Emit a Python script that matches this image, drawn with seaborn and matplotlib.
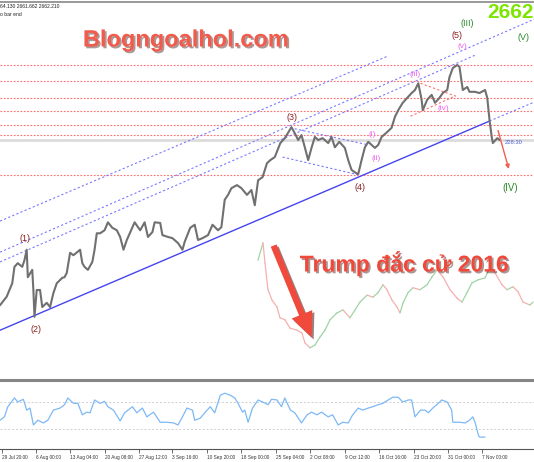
import matplotlib
matplotlib.use("Agg")
import matplotlib.pyplot as plt
import matplotlib.patheffects as pe
import seaborn as sns

# --- dados (XAUUSD H4, 29 Jul - 7 Nov) ---
# indice da barra e preco de fechamento
bar_idx = [0, 6, 11, 13, 16, 20, 22, 24, 25, 29,
           30, 31, 33, 36, 38, 42, 45, 48, 51, 56,
           58, 60, 63, 66, 72, 74, 76, 79, 83, 85,
           87, 90, 94, 97, 101, 105, 108, 111, 114, 119,
           121, 126, 130, 133, 137, 139, 144, 146, 151, 155,
           160, 164, 166, 171, 175, 178, 182, 187, 191, 196,
           199, 202, 205, 208, 213, 217, 222, 226, 229, 232,
           236, 240, 243, 247, 252, 256, 262, 265, 268, 271,
           274, 277, 280, 283, 286, 290, 295, 298, 301, 305,
           310, 313, 316, 319, 322, 325, 328, 331, 334, 337,
           340, 343, 348, 352, 355, 358, 362, 366, 370, 373,
           376, 379, 380, 384, 388, 391, 395, 398, 402, 404,
           407, 411, 413, 416, 420, 422, 427, 431, 436, 438,
           440, 442, 443, 447, 449]
close = [2396, 2410, 2432, 2459, 2465, 2459, 2470, 2487, 2442, 2454,
         2421, 2377, 2421, 2421, 2393, 2400, 2393, 2416, 2432, 2441,
         2442, 2449, 2482, 2478, 2487, 2465, 2459, 2454, 2467, 2487,
         2514, 2514, 2519, 2532, 2523, 2519, 2508, 2487, 2503, 2524,
         2532, 2519, 2532, 2508, 2516, 2532, 2531, 2511, 2508, 2506,
         2498, 2487, 2500, 2523, 2528, 2503, 2506, 2511, 2528, 2519,
         2524, 2569, 2577, 2588, 2593, 2588, 2577, 2585, 2560, 2601,
         2606, 2629, 2634, 2639, 2662, 2670, 2688, 2678, 2667, 2675,
         2655, 2634, 2654, 2672, 2667, 2670, 2662, 2672, 2655, 2664,
         2654, 2634, 2618, 2614, 2611, 2634, 2655, 2664, 2659, 2654,
         2659, 2672, 2680, 2687, 2705, 2716, 2728, 2736, 2744, 2749,
         2760, 2733, 2716, 2733, 2741, 2728, 2736, 2744, 2749, 2770,
         2785, 2790, 2787, 2749, 2754, 2746, 2746, 2744, 2749, 2736,
         2700, 2672, 2662, 2670, 2667]

# niveis horizontais (linhas vermelhas pontilhadas) e preco atual
niveis = [2790, 2764, 2736, 2714, 2691, 2676, 2609]
preco_atual = 2667

# linhas de canal: (barra ini, preco ini, barra fim, preco fim)
canal_pontilhado = [(0, 2534, 349, 2805),
                    (0, 2483, 480, 2865),
                    (0, 2467, 427, 2806),
                    (440, 2698, 480, 2729),
                    (261, 2687, 331, 2659),
                    (254, 2639, 322, 2610)]
canal_base = (0, 2355, 440, 2698)
triangulo_iv = [(378, 2760, 411, 2738), (369, 2706, 409, 2739)]
seta_queda = (447, 2687, 458, 2615)

# indicador (painel inferior)
ind_bar = [0, 4, 7, 13, 16, 21, 24, 27, 30, 34, 39, 43, 48, 54, 58, 61, 66, 70,
           74, 78, 81, 85, 90, 94, 97, 102, 108, 112, 119, 123, 128, 132, 138,
           144, 150, 156, 160, 164, 168, 173, 175, 180, 184, 189, 193, 198, 202,
           207, 211, 214, 218, 220, 223, 227, 232, 236, 241, 244, 249, 253, 256,
           261, 265, 271, 276, 280, 285, 289, 295, 299, 304, 308, 313, 317, 322,
           326, 331, 335, 340, 344, 349, 353, 358, 362, 367, 370, 373, 378, 382,
           385, 389, 394, 397, 402, 406, 407, 413, 418, 422, 425, 427, 430, 431,
           436]
ind_val = [43, 48, 63, 76, 70, 74, 58, 61, 36, 43, 39, 43, 58, 61, 66, 76, 68, 68,
           51, 55, 54, 73, 68, 71, 63, 58, 42, 54, 63, 54, 61, 48, 55,
           40, 40, 39, 36, 48, 61, 58, 43, 46, 54, 63, 54, 80, 83,
           80, 76, 68, 55, 58, 40, 61, 73, 70, 66, 74, 73, 63, 76,
           58, 54, 39, 51, 55, 51, 55, 48, 51, 36, 40, 39, 51, 61,
           58, 61, 63, 66, 68, 73, 77, 77, 70, 73, 73, 48, 58, 58,
           54, 61, 68, 73, 70, 58, 40, 40, 39, 43, 48, 40, 21, 18,
           18]

# grafico de 2016 sobreposto (dia, preco)
ov_dia = [3, 8, 10, 13, 17, 22, 25, 30, 35, 42, 47, 50, 55, 60, 65, 70, 75, 82,
          88, 95, 100, 105, 112, 118, 123, 128, 132, 137, 142, 145, 148, 153,
          158, 165, 172, 177, 182, 188, 195, 202, 207, 212, 217, 223, 230, 235,
          240, 247, 252, 258, 263, 268, 275, 278]
ov_preco = [1302, 1337, 1296, 1242, 1221, 1207, 1185, 1181, 1164, 1160, 1154,
            1134, 1124, 1130, 1146, 1160, 1181, 1195, 1201, 1185, 1201, 1217,
            1231, 1227, 1236, 1252, 1242, 1221, 1207, 1195, 1215, 1236, 1246,
            1242, 1252, 1268, 1282, 1268, 1242, 1225, 1217, 1236, 1256, 1262,
            1266, 1288, 1276, 1252, 1242, 1248, 1238, 1217, 1211, 1217]

# eixo x
tick_bar = [2, 32, 63, 94, 125, 155, 186, 217, 248, 279, 310, 341, 372, 403, 433]
tick_lbl = ["29 Jul 20:00", "6 Aug 00:00", "13 Aug 04:00", "20 Aug 08:00",
            "27 Aug 12:00", "3 Sep 16:00", "10 Sep 20:00", "18 Sep 00:00",
            "25 Sep 04:00", "2 Oct 08:00", "9 Oct 12:00", "16 Oct 16:00",
            "23 Oct 20:00", "31 Oct 00:00", "7 Nov 00:00"]

sns.set_theme(style="white")
plt.rcParams["font.family"] = ["Liberation Sans", "DejaVu Sans"]

W, H = 534, 462
fig = plt.figure(figsize=(W / 100, H / 100), dpi=100)
fig.patch.set_facecolor("white")

ax = fig.add_axes([0, 82 / H, 1, 378 / H])
ax_ind = fig.add_axes([0, 13 / H, 1, 67 / H])
ax_ov = fig.add_axes([255 / W, 107 / H, 279 / W, 120 / H])


def txt(px, py, s, **kw):
    kw.setdefault("ha", "center")
    kw.setdefault("va", "center")
    return fig.text(px / W, 1 - py / H, s, **kw)


# painel principal
for n in niveis:
    ax.axhline(n, color="#ff6b6b", ls=(0, (1.5, 1.5)), lw=0.8, zorder=1)
ax.axhline(preco_atual, color="#dcdcdc", lw=2.0, zorder=0.5)

for x0, y0, x1, y1 in canal_pontilhado:
    ax.plot([x0, x1], [y0, y1], color="#7b7bff", ls=(0, (2, 2)), lw=0.8, zorder=1)
x0, y0, x1, y1 = canal_base
ax.plot([x0, x1], [y0, y1], color="#4545f0", lw=1.0, zorder=1)
for x0, y0, x1, y1 in triangulo_iv:
    ax.plot([x0, x1], [y0, y1], color="#ff7070", ls=(0, (2, 2)), lw=0.8, zorder=1)

sns.lineplot(x=bar_idx, y=close, ax=ax, color="#707070", lw=1.5,
             estimator=None, sort=False, zorder=3)

x0, y0, x1, y1 = seta_queda
ax.annotate("", xy=(x1, y1), xytext=(x0, y0),
            arrowprops=dict(arrowstyle="-|>", color="#f06050", lw=1.0,
                            mutation_scale=6))

# seta grande "Trump"
ax.annotate("", xy=(281, 2339), xytext=(245, 2498),
            arrowprops=dict(arrowstyle="simple,head_width=1.6,head_length=1.8,tail_width=0.45",
                            fc="#ef4a3c", ec="none", mutation_scale=10,
                            path_effects=[pe.withSimplePatchShadow(offset=(1.5, -1.5),
                                                                   alpha=0.55)]),
            zorder=6)

ax.set_xlim(0, 480)
ax.set_ylim(2273.4, 2893.3)
ax.set_xticks([]); ax.set_yticks([])
ax.set_xlabel(""); ax.set_ylabel("")
for s in ["left", "right"]:
    ax.spines[s].set_visible(False)
ax.spines["top"].set_color("#888888")
ax.spines["top"].set_linewidth(1.2)
ax.spines["bottom"].set_color("#858585")
ax.spines["bottom"].set_linewidth(2.2)
ax.set_facecolor("none")

# grafico 2016 sobreposto
for i in range(1, len(ov_dia)):
    cor = "#9fd4a4" if ov_preco[i] >= ov_preco[i - 1] else "#f5b0ae"
    ax_ov.plot(ov_dia[i - 1:i + 1], ov_preco[i - 1:i + 1], color=cor, lw=0.9)
ax_ov.set_xlim(0, 279)
ax_ov.set_ylim(1109.6, 1353)
ax_ov.axis("off")
ax_ov.patch.set_alpha(0)

# indicador
ax_ind.axhline(70, color="#cfcfcf", ls=(0, (2, 2)), lw=0.7)
ax_ind.axhline(30, color="#cfcfcf", ls=(0, (2, 2)), lw=0.7)
sns.lineplot(x=ind_bar, y=ind_val, ax=ax_ind, color="#7db9f5", lw=0.9,
             estimator=None, sort=False)
ax_ind.set_xlim(0, 480)
ax_ind.set_ylim(0.4, 99.6)
ax_ind.set_yticks([])
ax_ind.set_ylabel(""); ax_ind.set_xlabel("")
ax_ind.set_xticks(tick_bar)
ax_ind.set_xticklabels(tick_lbl, ha="left", fontsize=3.4, color="#333333")
ax_ind.tick_params(axis="x", direction="out", length=3, width=0.6,
                   color="#555555", pad=1.5, bottom=True)
for s in ["left", "right", "top"]:
    ax_ind.spines[s].set_visible(False)
ax_ind.spines["bottom"].set_color("#555555")
ax_ind.spines["bottom"].set_linewidth(0.8)
ax_ind.set_facecolor("none")

# textos
txt(0, 7, "64.130 2661.662 2662.210", ha="left", fontsize=3.6, color="#222222")
txt(0, 15, "o bar end", ha="left", fontsize=3.6, color="#222222")

sombra = [pe.withSimplePatchShadow(offset=(1.3, -1.3), alpha=0.45)]
txt(186, 40, "Blogngoalhol.com", fontsize=17, fontweight="bold",
    color="#f25a4b", path_effects=sombra)
txt(404, 263, "Trump đắc cử 2016", fontsize=16.5, fontweight="bold",
    color="#f0493b", path_effects=sombra)
txt(511, 13, "2662", fontsize=15, fontweight="bold", color="#7ce600")

vermelho = "#8c2323"
verde = "#2a8a2a"
magenta = "#ee66ee"
for s, px, py, cor, fs in [("(1)", 25, 239, vermelho, 6.5),
                           ("(2)", 36, 330, vermelho, 6.5),
                           ("(3)", 292, 117, vermelho, 6.5),
                           ("(4)", 360, 188, vermelho, 6.5),
                           ("(5)", 457, 35, vermelho, 6.5),
                           ("(III)", 467, 24, verde, 6.5),
                           ("(V)", 523, 37, verde, 6.5),
                           ("(IV)", 510, 188, verde, 7),
                           ("(v)", 462, 47, magenta, 6),
                           ("(iii)", 415, 75, magenta, 6),
                           ("(iv)", 443, 108, magenta, 6),
                           ("(i)", 372, 134, magenta, 6),
                           ("(ii)", 376, 159, magenta, 6)]:
    txt(px, py, s, fontsize=fs, color=cor)

txt(505, 143, "228:30", ha="left", fontsize=4.2, color="#4a5fd8")

fig.savefig("out.png", dpi=100, facecolor="white")
